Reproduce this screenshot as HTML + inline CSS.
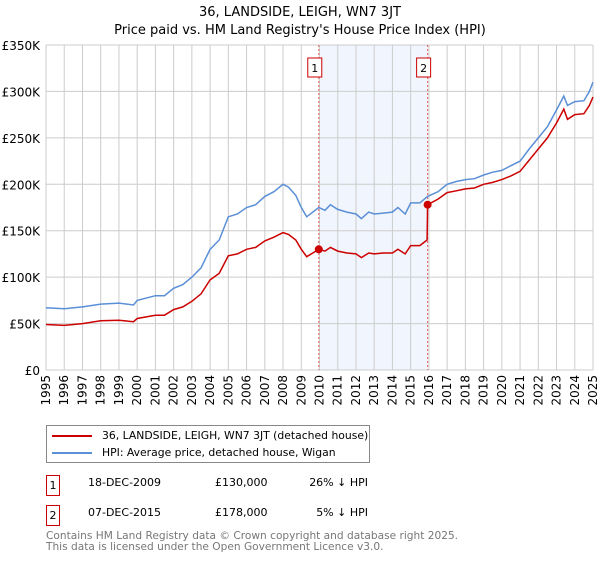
<!DOCTYPE html>
<html><head><meta charset="utf-8"><style>
body{margin:0;background:#fff;font-family:"DejaVu Sans","Liberation Sans",sans-serif;}
svg text{font-family:"DejaVu Sans","Liberation Sans",sans-serif;}
</style></head><body>
<svg id="c" width="600" height="560" xmlns="http://www.w3.org/2000/svg"></svg>
<script>
const hpiYears=[1995,1996,1997,1998,1999,1999.8,2000,2001,2001.5,2002,2002.5,2003,2003.5,2004,2004.5,2005,2005.5,2006,2006.5,2007,2007.5,2008,2008.3,2008.7,2009,2009.3,2009.96,2010.3,2010.6,2011,2011.5,2012,2012.3,2012.7,2013,2013.5,2014,2014.3,2014.7,2015,2015.5,2015.93,2016.5,2017,2017.5,2018,2018.5,2019,2019.5,2020,2020.5,2021,2021.5,2022,2022.5,2023,2023.4,2023.6,2024,2024.5,2024.8,2025];
const hpiValues=[67,66,68,71,72,70,75,80,80,88,92,100,110,130,140,165,168,175,178,187,192,200,197,188,175,165,175,172,178,173,170,168,163,170,168,169,170,175,168,180,180,187,192,200,203,205,206,210,213,215,220,225,238,250,262,280,295,285,289,290,300,310];
const priceYears=[1995,1996,1997,1998,1999,1999.8,2000,2001,2001.5,2002,2002.5,2003,2003.5,2004,2004.5,2005,2005.5,2006,2006.5,2007,2007.5,2008,2008.3,2008.7,2009,2009.3,2009.96,2010.3,2010.6,2011,2011.5,2012,2012.3,2012.7,2013,2013.5,2014,2014.3,2014.7,2015,2015.5,2015.9,2015.93,2016.5,2017,2017.5,2018,2018.5,2019,2019.5,2020,2020.5,2021,2021.5,2022,2022.5,2023,2023.4,2023.6,2024,2024.5,2024.8,2025];
const priceValues=[49,48,50,53,53.5,52,55.5,59,59,65,68,74,82,97,104,123,125,130,132,139,143,148,146,140,130,122,130,128,132,128,126,125,121,126,125,126,126,130,125,134,134,140,178,184,191,193,195,196,200,202,205,209,214,226,238,250,266,281,270,275,276,285,294];
const saleYears=[2009.96,2015.93];
const saleValues=[130,178];
const saleLabels=["1","2"];
const yTicks=[0,50,100,150,200,250,300,350];
const yTickLabels=["£0","£50K","£100K","£150K","£200K","£250K","£300K","£350K"];
const xTicks=[];for(let y=1995;y<=2025;y++)xTicks.push(y);

const NS="http://www.w3.org/2000/svg",svg=document.getElementById('c');
const X0=46,X1=593,Y0=370,Y1=45;
const xs=v=>X0+(v-1995)/30*(X1-X0), ys=v=>Y0-v/350*(Y0-Y1);
function el(t,a,p){const e=document.createElementNS(NS,t);for(const k in a)e.setAttribute(k,a[k]);(p||svg).appendChild(e);return e;}
function tx(x,y,s,a,p){const e=el('text',Object.assign({x:x,y:y},a),p);e.textContent=s;return e;}
let t=tx(300,16,"36, LANDSIDE, LEIGH, WN7 3JT",{"text-anchor":"middle","font-size":"13"});

t=tx(300,34,"Price paid vs. HM Land Registry's House Price Index (HPI)",{"text-anchor":"middle","font-size":"13"});

let r=el('rect',{x:xs(saleYears[0]),y:Y1,width:xs(saleYears[1])-xs(saleYears[0]),height:Y0-Y1,fill:"#eef3fc",opacity:"0.8"});

const g=el('g',{});
xTicks.forEach((v,i)=>{el('line',{x1:xs(v),x2:xs(v),y1:Y1,y2:Y0,stroke:"#cccccc"},g);
 const l=tx(0,0,String(v),{"font-size":"12","text-anchor":"end",transform:`translate(${xs(v)+4},${Y0+5}) rotate(-90)`});
 });
yTicks.forEach((v,i)=>{el('line',{x1:X0,x2:X1,y1:ys(v),y2:ys(v),stroke:"#cccccc"},g);
 const l=tx(40,ys(v)+5,yTickLabels[i],{"font-size":"12","text-anchor":"end"});
 });
saleYears.forEach((v,i)=>{const ln=el('line',{x1:xs(v),x2:xs(v),y1:Y1,y2:Y0,stroke:"#e06060","stroke-dasharray":"2,2"});
 
 const b=el('rect',{x:xs(v)-11,y:58,width:14,height:19,fill:"#fff",stroke:"#cc0000"});
 
 tx(xs(v)-4,72,saleLabels[i],{"font-size":"11","text-anchor":"middle"});});
function path(xa,va,c,n){const d=xa.map((x,i)=>(i?'L':'M')+xs(x).toFixed(1)+','+ys(va[i]).toFixed(1)).join('');
 const p=el('path',{d:d,fill:"none",stroke:c,"stroke-width":"1.5"});}
path(hpiYears,hpiValues,"#5b8fd6",'hpi-line');
path(priceYears,priceValues,"#cc0000",'price-line');
saleYears.forEach((v,i)=>{const c=el('circle',{cx:xs(v),cy:ys(saleValues[i]),r:4,fill:"#cc0000"});
 });
</script>
<div style="position:absolute;left:46px;top:425px;width:322px;height:36px;border:1px solid #888;font-size:10.8px;">
 <div style="position:absolute;left:5px;top:3px;white-space:nowrap"><span style="display:inline-block;width:40px;height:2px;background:#cc0000;vertical-align:middle;margin-right:10px"></span>36, LANDSIDE, LEIGH, WN7 3JT (detached house)</div>
 <div style="position:absolute;left:5px;top:20px;white-space:nowrap"><span style="display:inline-block;width:40px;height:2px;background:#5b8fd6;vertical-align:middle;margin-right:10px"></span>HPI: Average price, detached house, Wigan</div>
</div>
<div style="position:absolute;left:0;top:0;font-size:11px;">
 <div style="position:absolute;left:46px;top:475px;width:12px;height:19px;border:1px solid #cc0000;text-align:center;line-height:19px">1</div>
 <div style="position:absolute;left:88px;top:476px;white-space:nowrap">18-DEC-2009</div>
 <div style="position:absolute;left:215px;top:476px;white-space:nowrap">£130,000</div>
 <div style="position:absolute;left:280px;top:476px;width:88px;text-align:right;white-space:nowrap">26% ↓ HPI</div>
 <div style="position:absolute;left:46px;top:505px;width:12px;height:19px;border:1px solid #cc0000;text-align:center;line-height:19px">2</div>
 <div style="position:absolute;left:88px;top:506px;white-space:nowrap">07-DEC-2015</div>
 <div style="position:absolute;left:215px;top:506px;white-space:nowrap">£178,000</div>
 <div style="position:absolute;left:280px;top:506px;width:88px;text-align:right;white-space:nowrap">5% ↓ HPI</div>
</div>
<div style="position:absolute;left:46px;top:531px;font-size:10.6px;color:#777;line-height:11px;white-space:nowrap">Contains HM Land Registry data © Crown copyright and database right 2025.<br>This data is licensed under the Open Government Licence v3.0.</div>
</body></html>
